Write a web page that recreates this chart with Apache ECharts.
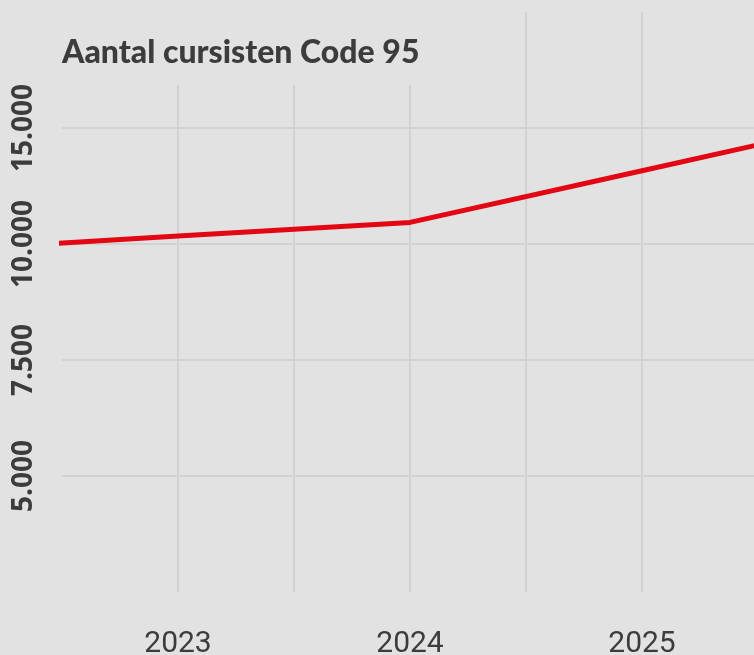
<!DOCTYPE html>
<html>
<head>
<meta charset="utf-8">
<style>
  html, body { margin: 0; padding: 0; background: #e2e2e2; }
  #chart { width: 754px; height: 655px; }
</style>
<script src="https://cdn.jsdelivr.net/npm/echarts@6/dist/echarts.min.js"></script>
</head>
<body>
<div id="chart"></div>
<script>
// Aantal cursisten Code 95
var years = [2022, 2023, 2024, 2025, 2026];
var cursisten = [9875, 10170, 10465, 11580, 12695];

// y tick values and the labels the original prints next to them
var yTickValues = [5000, 7500, 10000, 12500];
var yTickLabels = ['5.000', '7.500', '10.000', '15.000'];

var textColor = '#3c3c3c';
var gridColor = '#d2d2d2';
var bgColor = '#e2e2e2';

var chart = echarts.init(document.getElementById('chart'));

var option = {
    backgroundColor: bgColor,
    animation: false,

    // title box also hides the top of the grid lines behind it
    title: {
        text: 'Aantal cursisten Code 95',
        left: 50,
        top: 0,
        padding: [34, 20, 14, 12],
        backgroundColor: bgColor,
        textStyle: {
            fontFamily: 'Lato',
            fontWeight: 900,
            fontSize: 32,
            lineHeight: 37,
            color: textColor
        }
    },

    grid: {
        left: 62,
        right: -4,
        top: 12,
        bottom: 63,
        outerBoundsMode: 'none'
    },

    xAxis: {
        type: 'value',
        min: 2022.5,
        max: 2025.5,
        interval: 0.5,
        axisLine: { show: false },
        axisTick: { show: false },
        axisLabel: {
            margin: 37,
            fontFamily: 'Roboto',
            fontSize: 30,
            color: textColor,
            formatter: function (v) {
                return Number.isInteger(v) ? String(v) : '';
            }
        },
        splitLine: {
            showMinLine: false,
            lineStyle: { color: gridColor, width: 2 }
        }
    },

    yAxis: {
        type: 'value',
        min: 2500,
        max: 15000,
        interval: 2500,
        axisLine: { show: false },
        axisTick: { show: false },
        axisLabel: {
            rotate: 90,
            margin: 24,
            fontFamily: 'Open Sans',
            fontWeight: 'bold',
            fontSize: 28,
            color: textColor,
            formatter: function (v) {
                var i = yTickValues.indexOf(v);
                return i >= 0 ? yTickLabels[i] : '';
            }
        },
        splitLine: {
            showMinLine: false,
            showMaxLine: false,
            lineStyle: { color: gridColor, width: 2 }
        }
    },

    series: [{
        name: 'Aantal cursisten',
        type: 'line',
        data: years.map(function (y, i) { return [y, cursisten[i]]; }),
        showSymbol: false,
        clip: true,
        lineStyle: { color: '#e30613', width: 5 }
    }]
};

chart.setOption(option);
</script>
</body>
</html>
